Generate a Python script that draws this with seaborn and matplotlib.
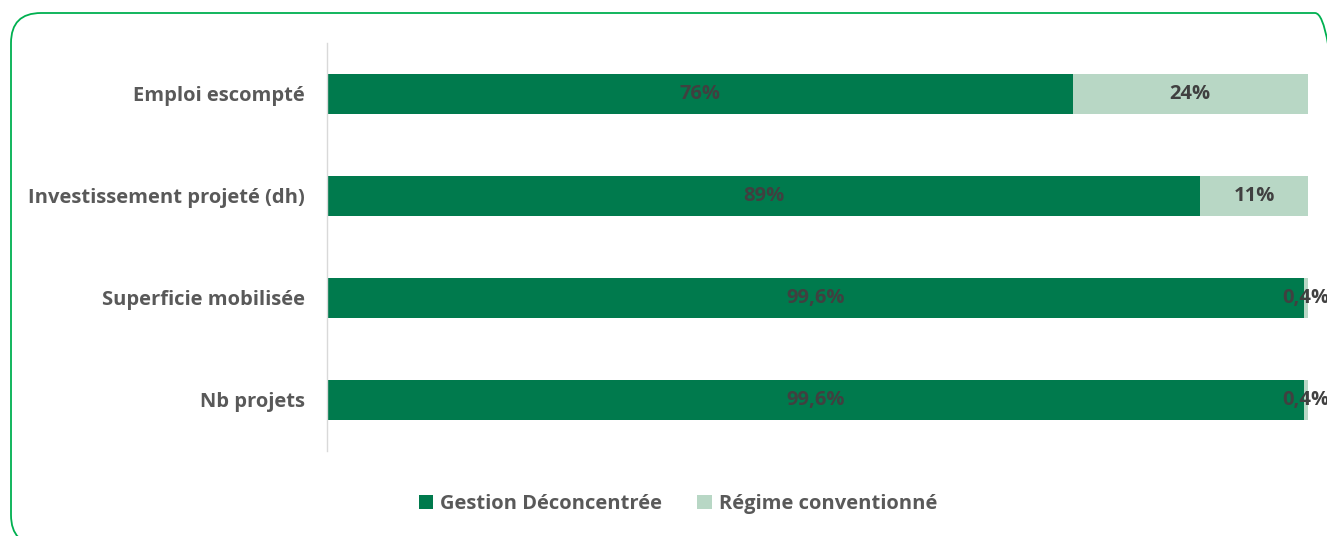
import matplotlib
matplotlib.use("Agg")
import matplotlib.pyplot as plt
import seaborn as sns
import pandas as pd
from matplotlib.patches import FancyBboxPatch, Patch
from matplotlib.transforms import IdentityTransform

# data
categories = ["Emploi escompté", "Investissement projeté (dh)", "Superficie mobilisée", "Nb projets"]
gestion = [76, 89, 99.6, 99.6]
regime = [24, 11, 0.4, 0.4]
gestion_labels = ["76%", "89%", "99,6%", "99,6%"]
regime_labels = ["24%", "11%", "0,4%", "0,4%"]
series_names = ["Gestion Déconcentrée", "Régime conventionné"]

dark_green = "#007A4D"
light_green = "#B8D7C5"
label_grey = "#595959"
value_grey = "#404040"

sns.set_theme(style="white")
plt.rcParams["font.family"] = ["Open Sans", "DejaVu Sans"]

df = pd.DataFrame({"cat": categories, "gestion": gestion, "regime": regime})
df["total"] = df["gestion"] + df["regime"]

fig = plt.figure(figsize=(13.27, 5.36), dpi=100)
ax = fig.add_axes([327 / 1327, 1 - 451 / 536, (1308 - 327) / 1327, (451 - 43) / 536])

sns.barplot(data=df, x="total", y="cat", color=light_green, width=0.39, saturation=1, linewidth=0, ax=ax)
sns.barplot(data=df, x="gestion", y="cat", color=dark_green, width=0.39, saturation=1, linewidth=0, ax=ax)

# value labels
for i in range(len(categories)):
    ax.text(gestion[i] / 2, i, gestion_labels[i], ha="center", va="center",
            fontsize=14.5, fontweight="bold", color=value_grey, clip_on=False)
    ax.text(gestion[i] + regime[i] / 2, i, regime_labels[i], ha="center", va="center",
            fontsize=14.5, fontweight="bold", color=value_grey, clip_on=False)

ax.set_xlim(0, 100)
ax.set_ylim(3.5, -0.5)
ax.set_xlabel("")
ax.set_ylabel("")
ax.set_xticks([])
ax.tick_params(axis="y", length=0, pad=16)
for lab in ax.get_yticklabels():
    lab.set_fontsize(14.5)
    lab.set_fontweight("bold")
    lab.set_color(label_grey)
for side in ["top", "right", "bottom"]:
    ax.spines[side].set_visible(False)
ax.spines["left"].set_color("#D9D9D9")
ax.spines["left"].set_linewidth(1)

# legend
handles = [Patch(facecolor=dark_green, edgecolor="none"), Patch(facecolor=light_green, edgecolor="none")]
leg = fig.legend(handles, series_names, loc="center", bbox_to_anchor=(678 / 1327, 1 - 504 / 536),
                 ncol=2, frameon=False, handlelength=0.7, handleheight=0.7,
                 handletextpad=0.35, columnspacing=1.75,
                 prop={"size": 14.5, "weight": "bold"})
for t in leg.get_texts():
    t.set_color(label_grey)

# rounded green frame (pixel coords)
frame = FancyBboxPatch((11, -9), 1334, 532, boxstyle="round,pad=0,rounding_size=30",
                       transform=IdentityTransform(), facecolor="none", edgecolor="#00B050",
                       linewidth=1.3, clip_on=False)
fig.patches.append(frame)

fig.savefig("out.png", dpi=100)
